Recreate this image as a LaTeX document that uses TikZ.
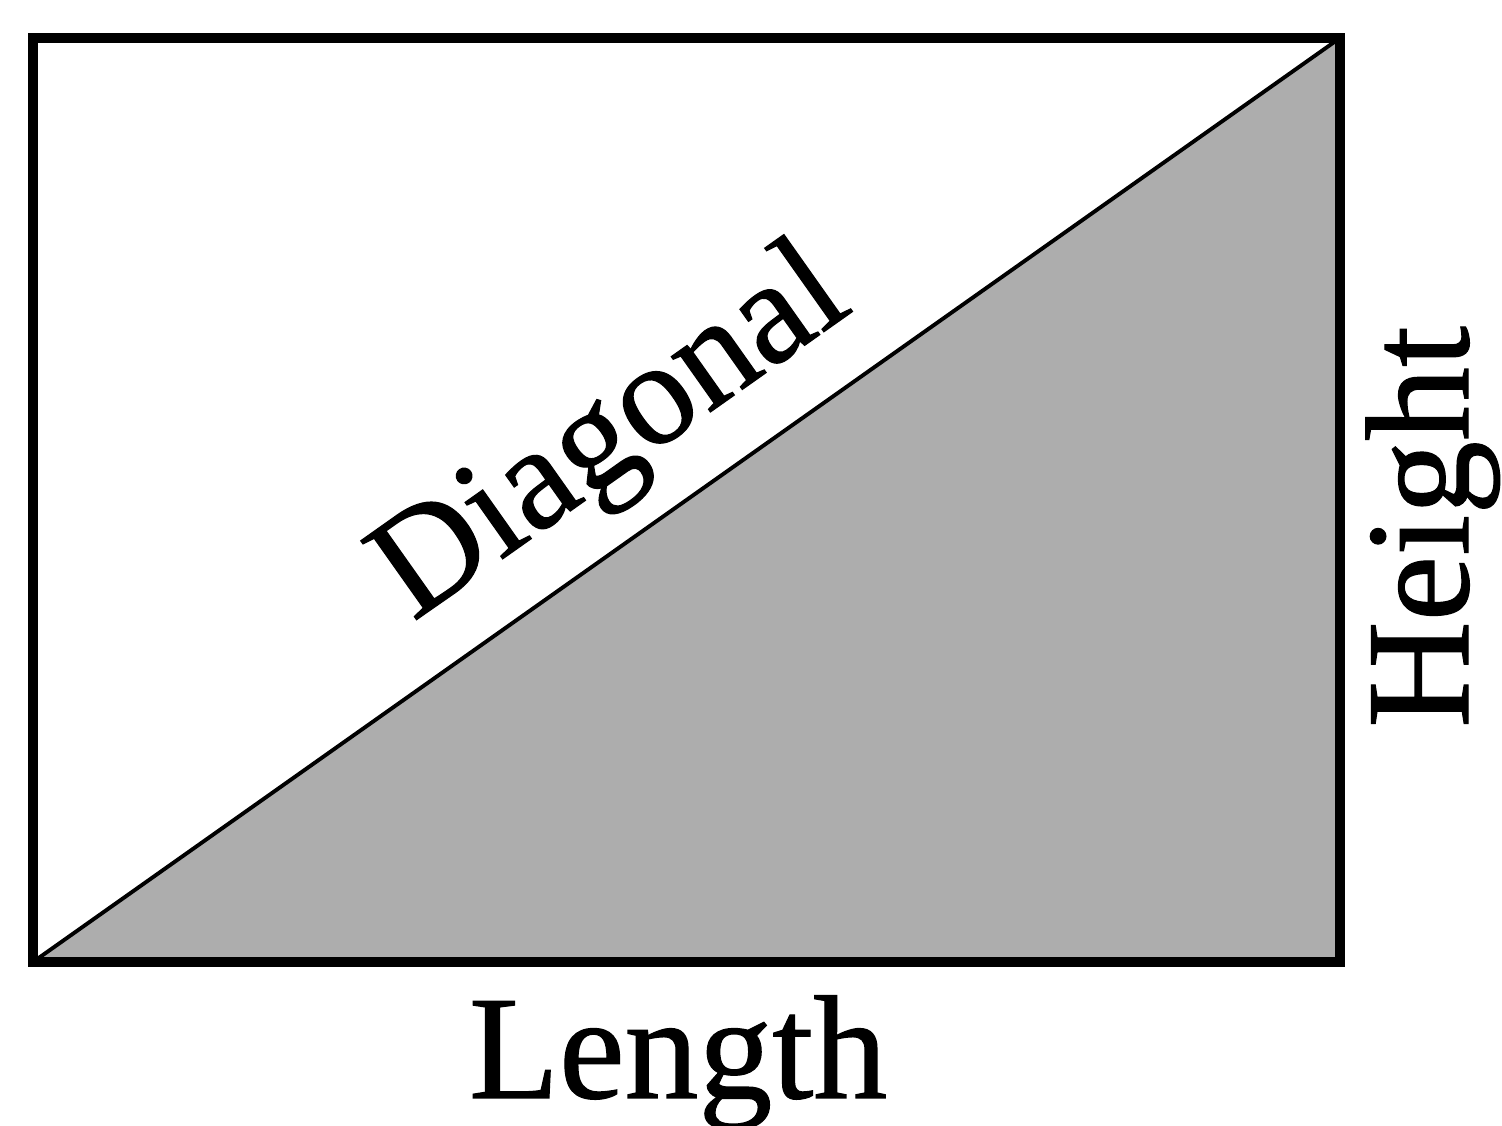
\documentclass[tikz,border=0pt]{standalone}
\usepackage{fontspec}
\setmainfont{Liberation Serif}
\newfontfamily\lblfont[FakeBold=0.8]{Liberation Serif}
\usetikzlibrary{positioning,calc}
\definecolor{areagray}{RGB}{173, 173, 173}

\begin{document}
\begin{tikzpicture}[
    x=0.1mm, y=-0.1mm,
    frame/.style={draw=black, line width=2.8pt, line join=miter},
    diag/.style={draw=black, line width=1.1pt},
    lbl/.style={font={\lblfont\fontsize{42}{50}\selectfont}, inner sep=0pt, anchor=base},
]
\useasboundingbox (0,0) rectangle (1502,1126);

% ═══════════════════════════════════════════════════════════════
% Rectangle corners
% ═══════════════════════════════════════════════════════════════
\coordinate (bl) at (33,962);
\coordinate (br) at (1340,962);
\coordinate (tr) at (1340,38);
\coordinate (tl) at (33,38);

% Shaded lower triangle
\fill[areagray] (bl) -- (br) -- (tr) -- cycle;

% Diagonal
\draw[diag] (bl) -- (tr);

% Frame
\draw[frame] (bl) -- (br) -- (tr) -- (tl) -- cycle;

% ═══════════════════════════════════════════════════════════════
% Labels
% ═══════════════════════════════════════════════════════════════
\node[lbl] (len) at (678,1098) {Length};
\node[lbl, rotate=90] (hgt) at (1468,527) {Height};
\node[lbl, rotate=35.26] (dia) at (634,466) {Diagonal};

\end{tikzpicture}
\end{document}
